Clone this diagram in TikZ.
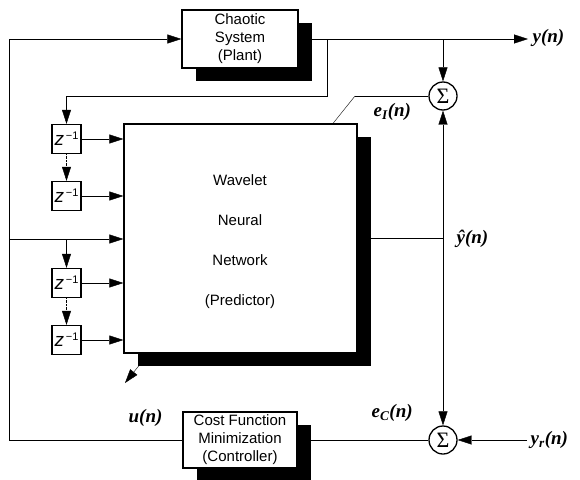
\documentclass[tikz,border=0pt]{standalone}
\usepackage{fontspec}
\setmainfont{Liberation Serif}
\newfontfamily\hv{Liberation Sans}
\usetikzlibrary{arrows.meta,shadows}
\pgfdeclarelayer{bg}
\pgfsetlayers{bg,main}
\newcommand{\zinv}{{\hv\itshape z}\raisebox{6pt}{\hv\fontsize{11}{11}\selectfont\,\textminus1}}
\begin{document}
\begin{tikzpicture}[x=1pt,y=-1pt, line width=1.3pt,
  arr/.style={-{Triangle[length=14pt,width=9pt]}},
  blk/.style={draw, fill=white, inner sep=0pt, align=center,
    font=\hv\fontsize{15}{18}\selectfont,
    drop shadow={shadow xshift=14pt, shadow yshift=-13pt, fill=black, opacity=1}},
  zbox/.style={draw, fill=white, minimum size=29pt, inner sep=0pt, font=\fontsize{19}{19}\selectfont},
  sig/.style={draw, circle, fill=white, minimum size=28pt, inner sep=0pt, font=\fontsize{22}{22}\selectfont},
  lab/.style={font=\fontsize{19}{19}\selectfont\bfseries\itshape, inner sep=0pt, anchor=west},
  txt/.style={font=\hv\fontsize{15}{40}\selectfont, align=center, inner sep=0pt}
]
\useasboundingbox (0,0) rectangle (580,479);

% nodes
\node[blk, minimum width=116pt, minimum height=58pt] (plant) at (240,39) {Chaotic\\System\\(Plant)};
\node[blk, minimum width=233pt, minimum height=229pt] (wnn) at (240.5,238.5) {};
\node[txt] (wnntxt) at (240,242) {Wavelet\\Neural\\Network\\(Predictor)};
\node[blk, minimum width=114pt, minimum height=56pt] (cost) at (240,440) {Cost Function\\Minimization\\(Controller)};

\node[zbox] (z1) at (66.5,139) {\zinv};
\node[zbox] (z2) at (66.5,196) {\zinv};
\node[zbox] (z3) at (66.5,283) {\zinv};
\node[zbox] (z4) at (66.5,340) {\zinv};

\node[sig] (stop) at (443,96) {Σ};
\node[sig] (sbot) at (443,440) {Σ};

\node[lab] (yn) at (532,38) {y(n)};
\node[lab] (eIn) at (373,112) {e\textsubscript{\itshape I}(n)};
\node[lab] (yhn) at (456,239) {ŷ(n)};
\node[lab] (un) at (128,418) {u(n)};
\node[lab] (eCn) at (371,413) {e\textsubscript{\itshape C}(n)};
\node[lab] (yrn) at (530,440) {y\textsubscript{\itshape r}(n)};

% coordinates
\coordinate (tl) at (9,39);
\coordinate (bl) at (9,440);
\coordinate (in) at (9,239);
\coordinate (br) at (66.5,239);
\coordinate (j1) at (327,39);
\coordinate (j2) at (443,39);
\coordinate (c1) at (327,96);
\coordinate (c2) at (66.5,96);
\coordinate (yend) at (528,39);
\coordinate (eI) at (355,96);
\coordinate (adj) at (125,383);
\coordinate (yhj) at (443,238.5);
\coordinate (yrs) at (527,440);

% adaptation arrow behind the predictor
\begin{pgfonlayer}{bg}
\draw[arr] (eI) -- (adj);
\end{pgfonlayer}

% connectors
\draw[arr] (tl) -- (plant.west);
\draw[arr] (plant.east) -- (yend);
\draw[arr] (j1) -- (c1) -- (c2) -- (z1.north);
\draw[arr] (j2) -- (stop.north);
\draw[arr, densely dotted] (z1.south) -- (z2.north);
\draw[arr] (z1.east) -- (z1.east -| wnn.west);
\draw[arr] (z2.east) -- (z2.east -| wnn.west);
\draw (tl) -- (bl);
\draw[arr] (in) -- (in -| wnn.west);
\draw[arr] (br) -- (z3.north);
\draw[arr, densely dotted] (z3.south) -- (z4.north);
\draw[arr] (z3.east) -- (z3.east -| wnn.west);
\draw[arr] (z4.east) -- (z4.east -| wnn.west);
\draw (cost.west) -- (bl);
\draw (sbot.west) -- (cost.east);
\draw[arr] (yrs) -- (sbot.east);
\draw (wnn.east) -- (yhj);
\draw[arr] (yhj) -- (stop.south);
\draw[arr] (yhj) -- (sbot.north);
\draw (stop.west) -- (eI);
\end{tikzpicture}
\end{document}
